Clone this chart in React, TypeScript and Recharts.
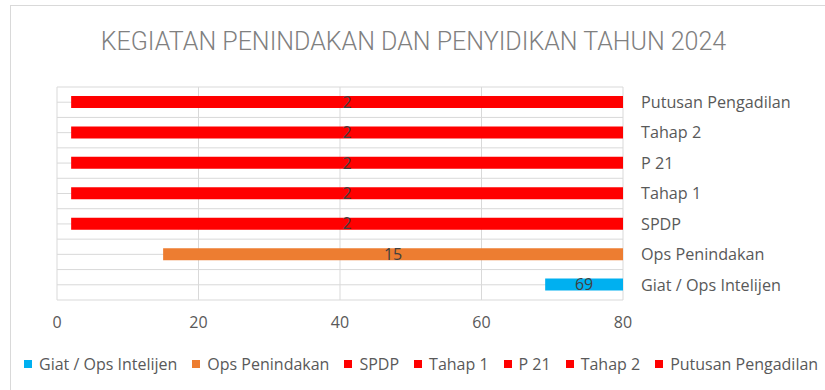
import React from 'react';
import {
    BarChart,
    Bar,
    XAxis,
    YAxis,
    CartesianGrid,
    Cell,
    LabelList,
} from 'recharts';

// series in legend order (first one is drawn at the bottom)
const categories = [
    'Giat / Ops Intelijen',
    'Ops Penindakan',
    'SPDP',
    'Tahap 1',
    'P 21',
    'Tahap 2',
    'Putusan Pengadilan',
];
const values = [69, 15, 2, 2, 2, 2, 2];
const colors = ['#00B0F0', '#ED7D31', '#FF0000', '#FF0000', '#FF0000', '#FF0000', '#FF0000'];
const xTicks = [0, 20, 40, 60, 80];
const axisMax = 80;

const title = 'KEGIATAN PENINDAKAN DAN PENYIDIKAN TAHUN 2024';

// vertical axis crosses at the maximum, so each bar runs from its value to 80
const data = categories.map((name, i) => ({
    name,
    value: values[i],
    range: [values[i], axisMax],
}));

const FONT = '"Open Sans", "Noto Sans", sans-serif';

const App: React.FC = () => {
    return (
        <div
            style={{
                position: 'absolute',
                left: 0,
                top: 0,
                width: 825,
                height: 390,
                background: '#ffffff',
                overflow: 'hidden',
                fontFamily: FONT,
            }}
        >
            <div
                style={{
                    position: 'absolute',
                    left: 10,
                    top: 5,
                    width: 900,
                    height: 500,
                    border: '1px solid #d9d9d9',
                }}
            />
            <div
                style={{
                    position: 'absolute',
                    left: 0,
                    top: 26,
                    width: 827,
                    textAlign: 'center',
                    fontFamily: 'Roboto, sans-serif',
                    fontWeight: 300,
                    fontSize: 25,
                    color: '#808080',
                    lineHeight: '32px',
                }}
            >
                {title}
            </div>
            <div style={{ position: 'absolute', left: 0, top: 0 }}>
                <BarChart
                    width={825}
                    height={390}
                    data={data}
                    layout="vertical"
                    margin={{ top: 87, right: 0, left: 57, bottom: 60 }}
                    barSize={12}
                >
                    <CartesianGrid
                        stroke="#d9d9d9"
                        horizontalCoordinatesGenerator={({ offset }: any) =>
                            Array.from(
                                { length: categories.length * 2 + 1 },
                                (_, i) => offset.top + (i * offset.height) / (categories.length * 2)
                            )
                        }
                    />
                    <XAxis
                        type="number"
                        domain={[0, axisMax]}
                        ticks={xTicks}
                        axisLine={false}
                        tickLine={false}
                        tickSize={0}
                        tickMargin={17}
                        height={30}
                        tick={{ fill: '#595959', fontSize: 16, fontFamily: FONT }}
                    />
                    <YAxis
                        type="category"
                        dataKey="name"
                        orientation="right"
                        reversed
                        width={202}
                        axisLine={false}
                        tickLine={false}
                        tickSize={0}
                        tickMargin={18}
                        tick={{ fill: '#595959', fontSize: 16.2, fontFamily: FONT, textAnchor: 'start' }}
                    />
                    <Bar dataKey="range" isAnimationActive={false}>
                        {data.map((d, i) => (
                            <Cell key={d.name} fill={colors[i]} />
                        ))}
                        <LabelList
                            dataKey="value"
                            position="center"
                            fill="#404040"
                            fontSize={16}
                            fontFamily={FONT}
                        />
                    </Bar>
                </BarChart>
            </div>
            <div
                style={{
                    position: 'absolute',
                    left: 24,
                    top: 353,
                    display: 'flex',
                    alignItems: 'center',
                    fontSize: 16,
                    color: '#595959',
                    whiteSpace: 'nowrap',
                }}
            >
                {categories.map((name, i) => (
                    <div
                        key={name}
                        style={{ display: 'flex', alignItems: 'center', marginRight: 15 }}
                    >
                        <span
                            style={{
                                display: 'inline-block',
                                width: 8,
                                height: 8,
                                background: colors[i],
                                marginRight: 7,
                            }}
                        />
                        <span>{name}</span>
                    </div>
                ))}
            </div>
        </div>
    );
};

export default App;
